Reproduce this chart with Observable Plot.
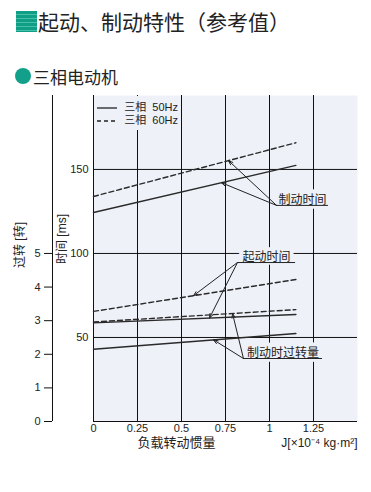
<!DOCTYPE html>
<html><head><meta charset="utf-8">
<script src="https://cdn.jsdelivr.net/npm/d3@7"></script>
<script src="https://cdn.jsdelivr.net/npm/@observablehq/plot@0.6"></script>
<style>
body{margin:0;background:#fff;color:#222;font-family:"Liberation Sans","Noto Sans CJK SC",sans-serif;}
#wrap{position:relative;width:371px;height:492px;overflow:hidden;background:#fff;}
#title{position:absolute;left:16px;top:8px;height:26px;display:flex;align-items:center;font-family:"Noto Sans CJK SC",sans-serif;font-size:21px;color:#222;white-space:nowrap;}
#title .sq{width:21px;height:21px;margin-right:1px;background:repeating-linear-gradient(180deg,#119e86 0px,#119e86 3px,#45c3a6 3px,#45c3a6 4px);}
#sub{position:absolute;left:15px;top:64px;height:24px;display:flex;align-items:center;font-family:"Noto Sans CJK SC",sans-serif;font-size:17px;color:#222;white-space:nowrap;}
#sub .dot{width:16px;height:16px;border-radius:50%;background:#13a08a;margin-right:2px;}
#chart{position:absolute;left:0;top:90px;}
#legend{position:absolute;left:94px;top:96px;width:84px;height:34px;background:#eef1f8;padding:5px 0 0 3px;box-sizing:border-box;font-size:11px;}
#legend .row{display:flex;align-items:center;height:13px;line-height:13px;}
#legend svg{margin-right:7px;}
</style>
</head><body>
<div id="wrap">
  <div id="title"><div class="sq"></div>起动、制动特性（参考值）</div>
  <div id="sub"><div class="dot"></div>三相电动机</div>
  <div id="chart"></div>
  <div id="legend"></div>
</div>
<script>
// ---- data ----
const xTicks = [0, 0.25, 0.5, 0.75, 1, 1.25];
const xGrid = [0.25, 0.5, 0.75, 1, 1.25];
const msTicks = [50, 100, 150];
const revTicks = [0, 1, 2, 3, 4, 5];
const inertia = [0, 1.15];           // load inertia J [x10^-4 kg·m2]
const brake50 = [124.4, 152.4];      // braking time, ms
const brake60 = [133.9, 165.9];
const start50 = [58.7, 63.7];        // starting time, ms
const start60 = [65.5, 84.5];
const overrun50 = [2.15, 2.62];      // overrun at braking, revolutions
const overrun60 = [2.96, 3.33];
const legendLabels = ["三相  50Hz", "三相  60Hz"];
const legendDash = ["none", "4,3"];
const annLabels = ["制动时间", "起动时间", "制动时过转量"];
const annX1 = [1.04, 0.818, 0.852];
const annX2 = [1.335, 1.148, 1.301];
const annY = [128.6, 94.6, 37.5];
const annTargets = [
  [["brake60", 0.767], ["brake50", 0.727]],
  [["start60", 0.568], ["start50", 0.659]],
  [["overrun60", 0.79], ["overrun50", 0.682]]
];
const msPerRev = 100 / 5; // 5 rev on the left axis aligns with 100 ms

// ---- build tables ----
const series = [
  {key: "brake50", dashed: false, vals: brake50, k: 1},
  {key: "brake60", dashed: true, vals: brake60, k: 1},
  {key: "start50", dashed: false, vals: start50, k: 1},
  {key: "start60", dashed: true, vals: start60, k: 1},
  {key: "overrun50", dashed: false, vals: overrun50, k: msPerRev},
  {key: "overrun60", dashed: true, vals: overrun60, k: msPerRev}
];
const rows = series.flatMap(s => inertia.map((x, i) => ({key: s.key, dashed: s.dashed, x, y: s.vals[i] * s.k})));
const byKey = Object.fromEntries(series.map(s => [s.key, s]));
function valueAt(key, x) {
  const s = byKey[key];
  const t = (x - inertia[0]) / (inertia[1] - inertia[0]);
  return (s.vals[0] + (s.vals[1] - s.vals[0]) * t) * s.k;
}
const ann = annLabels.map((label, i) => ({label, x1: annX1[i], x2: annX2[i], y: annY[i]}));
const arrows = ann.flatMap((a, i) => annTargets[i].map(([key, x]) => ({x1: a.x1, y1: a.y, x2: x, y2: valueAt(key, x)})));

const bg = "#eef1f8";
const ink = "#222";
const chart = Plot.plot({
  width: 371, height: 371,
  marginLeft: 93, marginRight: 14, marginTop: 5, marginBottom: 40,
  x: {domain: [0, 1.5]},
  y: {domain: [0, 194]},
  style: {fontFamily: '"Liberation Sans","Noto Sans CJK SC",sans-serif', fontSize: "11px", color: ink, background: "transparent"},
  marks: [
    Plot.frame({fill: bg, stroke: null}),
    Plot.ruleX(xGrid, {stroke: "#111", strokeWidth: 1}),
    Plot.ruleY(msTicks, {stroke: "#111", strokeWidth: 1}),
    Plot.ruleX([0], {stroke: "#111"}),
    Plot.ruleY([0], {stroke: "#111"}),
    Plot.ruleX([0], {stroke: "#111", dx: -41}),
    Plot.line(rows.filter(d => !d.dashed), {x: "x", y: "y", z: "key", stroke: "#2a2a2a", strokeWidth: 1.4}),
    Plot.line(rows.filter(d => d.dashed), {x: "x", y: "y", z: "key", stroke: "#2a2a2a", strokeWidth: 1.4, strokeDasharray: "5,3"}),
    Plot.axisX(xTicks, {anchor: "bottom", tickSize: 0, tickPadding: 3, tickFormat: d => String(d), label: null, fontSize: 11}),
    Plot.axisY(msTicks, {anchor: "left", tickSize: 0, tickPadding: 5, label: null, fontSize: 11}),
    Plot.axisY(revTicks.map(r => r * msPerRev), {anchor: "left", tickSize: 8, tickPadding: 4, dx: -41, tickFormat: d => String(d / msPerRev), label: null, fontSize: 11, stroke: "#111"}),
    Plot.text(["负载转动惯量"], {frameAnchor: "bottom-left", textAnchor: "start", dx: 44, dy: 25, fontSize: 13}),
    Plot.text(["J[×10⁻⁴ kg·m²]"], {frameAnchor: "bottom-right", textAnchor: "end", dy: 25, fontSize: 12}),
    Plot.text(["过转 [转]"], {frameAnchor: "left", rotate: -90, dx: -73, dy: 9.5, fontSize: 12}),
    Plot.text(["时间 [ms]"], {frameAnchor: "left", rotate: -90, dx: -31, dy: 5.5, fontSize: 12}),
    Plot.text(ann, {x: d => (d.x1 + d.x2) / 2, y: "y", text: "label", lineAnchor: "bottom", dy: -1.5, fontSize: 12, fill: ink, stroke: bg, strokeWidth: 8, paintOrder: "stroke"}),
    Plot.ruleY(ann, {x1: "x1", x2: "x2", y: "y", stroke: ink, strokeWidth: 1}),
    Plot.arrow(arrows, {x1: "x1", y1: "y1", x2: "x2", y2: "y2", stroke: ink, strokeWidth: 1, headLength: 7, headAngle: 40})
  ]
});
document.getElementById("chart").appendChild(chart);

// legend
const lg = document.getElementById("legend");
legendLabels.forEach((label, i) => {
  const row = document.createElement("div");
  row.className = "row";
  row.innerHTML = `<svg width="24" height="4"><line x1="0" y1="2" x2="23" y2="2" stroke="${ink}" stroke-width="1.3" ${legendDash[i] !== "none" ? `stroke-dasharray="${legendDash[i]}"` : ""}/></svg><span style="white-space:pre">${label}</span>`;
  lg.appendChild(row);
});
</script>
</body></html>
